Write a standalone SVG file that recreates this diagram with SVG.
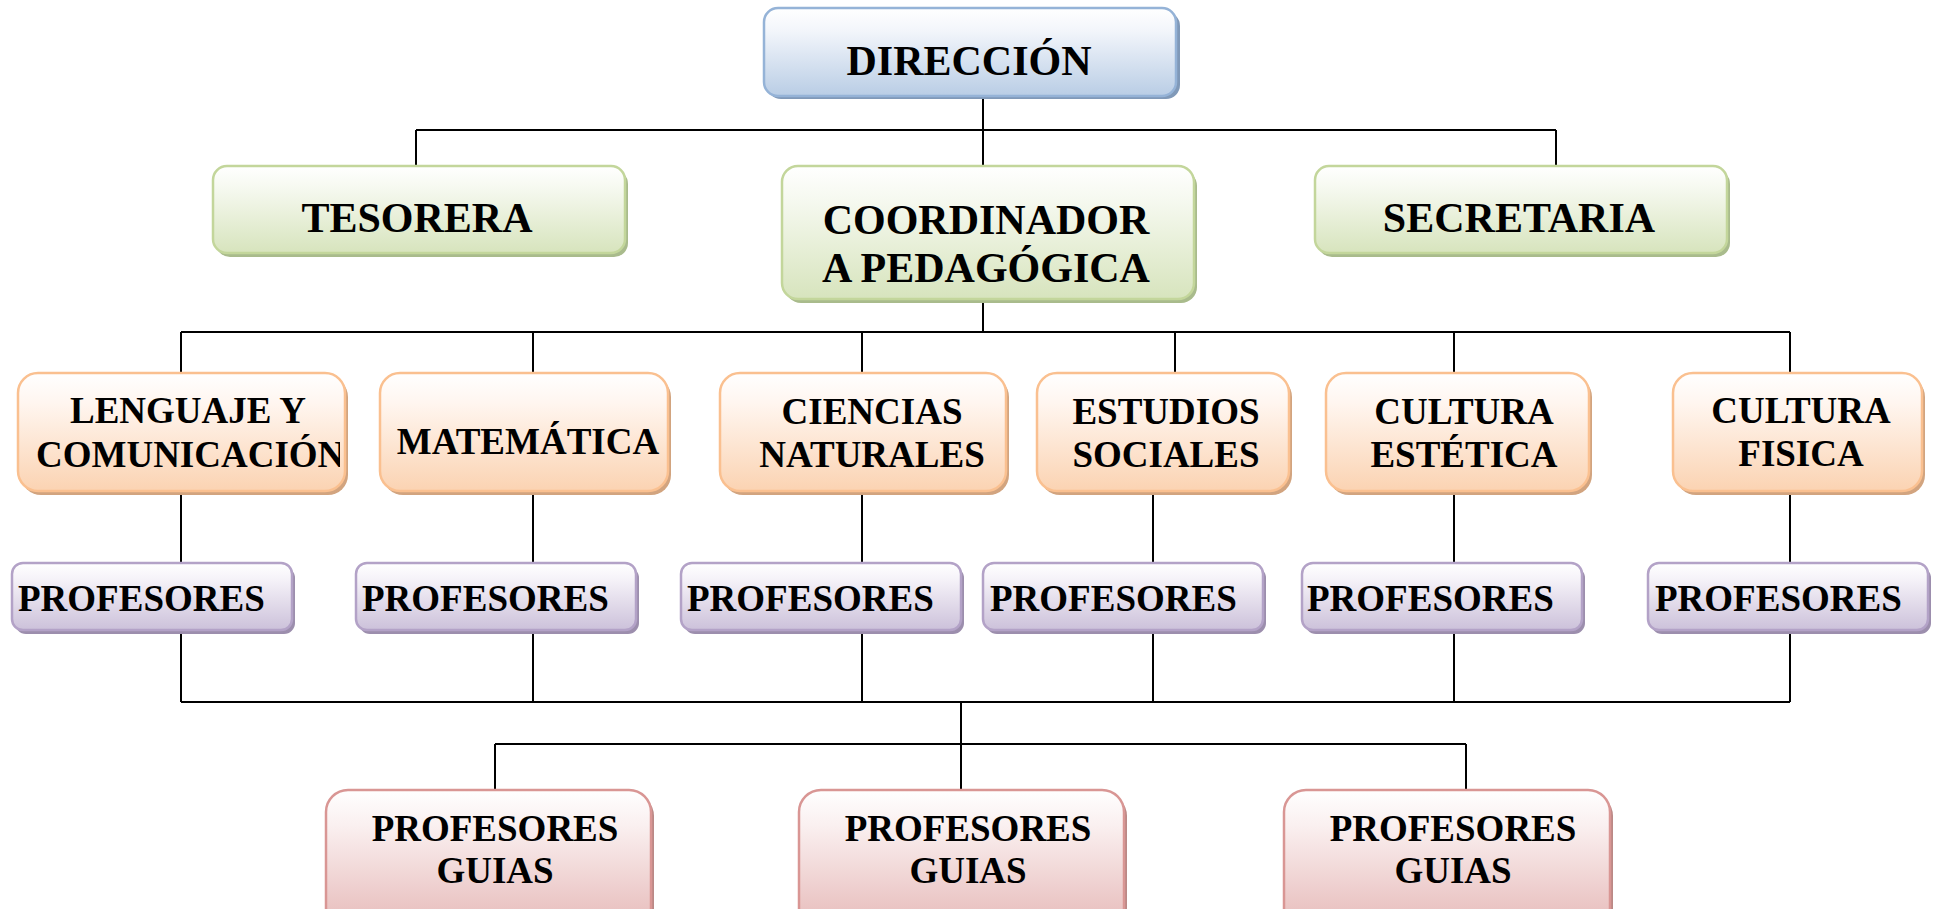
<svg xmlns="http://www.w3.org/2000/svg" width="1934" height="909" viewBox="0 0 1934 909">
<defs>
<linearGradient id="gBlue" x1="0" y1="0" x2="0" y2="1"><stop offset="0" stop-color="#ffffff"/><stop offset="0.25" stop-color="#f3f6fb"/><stop offset="1" stop-color="#b9cde5"/></linearGradient>
<linearGradient id="gGreen" x1="0" y1="0" x2="0" y2="1"><stop offset="0" stop-color="#ffffff"/><stop offset="0.25" stop-color="#f6f9f0"/><stop offset="1" stop-color="#d7e4bd"/></linearGradient>
<linearGradient id="gOrange" x1="0" y1="0" x2="0" y2="1"><stop offset="0" stop-color="#ffffff"/><stop offset="0.25" stop-color="#fff6f0"/><stop offset="1" stop-color="#fbd3b2"/></linearGradient>
<linearGradient id="gPurple" x1="0" y1="0" x2="0" y2="1"><stop offset="0" stop-color="#ffffff"/><stop offset="0.25" stop-color="#f5f2f8"/><stop offset="1" stop-color="#ccc1da"/></linearGradient>
<linearGradient id="gRed" x1="0" y1="0" x2="0" y2="1"><stop offset="0" stop-color="#ffffff"/><stop offset="0.25" stop-color="#faf0f0"/><stop offset="1" stop-color="#e6b9b8"/></linearGradient>
<clipPath id="clipLen"><rect x="18" y="373" width="322" height="118"/></clipPath>
</defs>
<style>
text{font-family:"Liberation Serif","Times New Roman",serif;font-weight:bold;fill:#000;text-anchor:middle}
.t42{font-size:42px}
.t37{font-size:37px}
.left{text-anchor:start}
.blue{fill:url(#gBlue);stroke:#95b3d7;stroke-width:2.5}
.green{fill:url(#gGreen);stroke:#c3d69b;stroke-width:2.5}
.orange{fill:url(#gOrange);stroke:#fac090;stroke-width:2.5}
.purple{fill:url(#gPurple);stroke:#b3a2c7;stroke-width:2.5}
.red{fill:url(#gRed);stroke:#d99694;stroke-width:2.5}
.sb{fill:#8099b8}.sg{fill:#a9bb8c}.so{fill:#d2a47f}.sp{fill:#9c8ead}.sr{fill:#bb8886}
.conn line{stroke:#000;stroke-width:2}
</style>
<rect width="1934" height="909" fill="#ffffff"/>
<g class="conn" id="connectors">
<line x1="983" y1="96" x2="983" y2="130"/>
<line x1="416" y1="130" x2="1556" y2="130"/>
<line x1="416" y1="130" x2="416" y2="166"/>
<line x1="983" y1="130" x2="983" y2="166"/>
<line x1="1556" y1="130" x2="1556" y2="166"/>
<line x1="983" y1="299" x2="983" y2="332"/>
<line x1="181" y1="332" x2="1790" y2="332"/>
<line x1="181" y1="332" x2="181" y2="373"/>
<line x1="533" y1="332" x2="533" y2="373"/>
<line x1="862" y1="332" x2="862" y2="373"/>
<line x1="1175" y1="332" x2="1175" y2="373"/>
<line x1="1454" y1="332" x2="1454" y2="373"/>
<line x1="1790" y1="332" x2="1790" y2="373"/>
<line x1="181" y1="491" x2="181" y2="563"/>
<line x1="533" y1="491" x2="533" y2="563"/>
<line x1="862" y1="491" x2="862" y2="563"/>
<line x1="1153" y1="491" x2="1153" y2="563"/>
<line x1="1454" y1="491" x2="1454" y2="563"/>
<line x1="1790" y1="491" x2="1790" y2="563"/>
<line x1="181" y1="630" x2="181" y2="702"/>
<line x1="533" y1="630" x2="533" y2="702"/>
<line x1="862" y1="630" x2="862" y2="702"/>
<line x1="1153" y1="630" x2="1153" y2="702"/>
<line x1="1454" y1="630" x2="1454" y2="702"/>
<line x1="1790" y1="630" x2="1790" y2="702"/>
<line x1="181" y1="702" x2="1790" y2="702"/>
<line x1="961" y1="702" x2="961" y2="790"/>
<line x1="495" y1="744" x2="1466" y2="744"/>
<line x1="495" y1="744" x2="495" y2="790"/>
<line x1="1466" y1="744" x2="1466" y2="790"/>
</g>
<g id="direccion">
<rect class="sb" x="767" y="12" width="413" height="87" rx="14"/>
<rect class="blue" x="764" y="8" width="412" height="88" rx="14"/>
<text class="t42" x="969" y="75">DIRECCIÓN</text>
</g>
<g id="tesorera">
<rect class="sg" x="216" y="170" width="412" height="87" rx="14"/>
<rect class="green" x="213" y="166" width="412" height="87" rx="14"/>
<text class="t42" x="417" y="232">TESORERA</text>
</g>
<g id="coordinadora">
<rect class="sg" x="785" y="170" width="412" height="133" rx="16"/>
<rect class="green" x="782" y="166" width="412" height="133" rx="16"/>
<text class="t42" x="986" y="234">COORDINADOR</text>
<text class="t42" x="986" y="282">A PEDAGÓGICA</text>
</g>
<g id="secretaria">
<rect class="sg" x="1318" y="170" width="412" height="87" rx="14"/>
<rect class="green" x="1315" y="166" width="412" height="87" rx="14"/>
<text class="t42" x="1519" y="232">SECRETARIA</text>
</g>
<g id="lenguaje">
<rect class="so" x="21" y="377" width="327" height="118" rx="20"/>
<rect class="orange" x="18" y="373" width="327" height="118" rx="20"/>
<g clip-path="url(#clipLen)">
<text class="t37" x="188" y="423">LENGUAJE Y</text>
<text class="t37 left" x="36" y="467">COMUNICACIÓN</text>
</g>
</g>
<g id="matematica">
<rect class="so" x="383" y="377" width="288" height="118" rx="20"/>
<rect class="orange" x="380" y="373" width="288" height="118" rx="20"/>
<text class="t37" x="528" y="454">MATEMÁTICA</text>
</g>
<g id="ciencias">
<rect class="so" x="723" y="377" width="286" height="118" rx="20"/>
<rect class="orange" x="720" y="373" width="286" height="118" rx="20"/>
<text class="t37" x="872" y="424">CIENCIAS</text>
<text class="t37" x="872" y="467">NATURALES</text>
</g>
<g id="estudios">
<rect class="so" x="1040" y="377" width="252" height="118" rx="20"/>
<rect class="orange" x="1037" y="373" width="252" height="118" rx="20"/>
<text class="t37" x="1166" y="424">ESTUDIOS</text>
<text class="t37" x="1166" y="467">SOCIALES</text>
</g>
<g id="estetica">
<rect class="so" x="1329" y="377" width="263" height="118" rx="20"/>
<rect class="orange" x="1326" y="373" width="263" height="118" rx="20"/>
<text class="t37" x="1464" y="424">CULTURA</text>
<text class="t37" x="1464" y="467">ESTÉTICA</text>
</g>
<g id="fisica">
<rect class="so" x="1676" y="377" width="249" height="118" rx="20"/>
<rect class="orange" x="1673" y="373" width="249" height="118" rx="20"/>
<text class="t37" x="1801" y="423">CULTURA</text>
<text class="t37" x="1801" y="466">FISICA</text>
</g>
<g id="prof1">
<rect class="sp" x="15" y="567" width="280" height="67" rx="11"/>
<rect class="purple" x="12" y="563" width="280" height="67" rx="11"/>
<text class="t37 left" x="18" y="611">PROFESORES</text>
</g>
<g id="prof2">
<rect class="sp" x="359" y="567" width="280" height="67" rx="11"/>
<rect class="purple" x="356" y="563" width="280" height="67" rx="11"/>
<text class="t37 left" x="362" y="611">PROFESORES</text>
</g>
<g id="prof3">
<rect class="sp" x="684" y="567" width="280" height="67" rx="11"/>
<rect class="purple" x="681" y="563" width="280" height="67" rx="11"/>
<text class="t37 left" x="687" y="611">PROFESORES</text>
</g>
<g id="prof4">
<rect class="sp" x="986" y="567" width="280" height="67" rx="11"/>
<rect class="purple" x="983" y="563" width="280" height="67" rx="11"/>
<text class="t37 left" x="990" y="611">PROFESORES</text>
</g>
<g id="prof5">
<rect class="sp" x="1305" y="567" width="280" height="67" rx="11"/>
<rect class="purple" x="1302" y="563" width="280" height="67" rx="11"/>
<text class="t37 left" x="1307" y="611">PROFESORES</text>
</g>
<g id="prof6">
<rect class="sp" x="1651" y="567" width="280" height="67" rx="11"/>
<rect class="purple" x="1648" y="563" width="280" height="67" rx="11"/>
<text class="t37 left" x="1655" y="611">PROFESORES</text>
</g>
<g id="guias1">
<rect class="sr" x="329" y="794" width="325" height="140" rx="22"/>
<rect class="red" x="326" y="790" width="325" height="140" rx="22"/>
<text class="t37" x="495" y="841">PROFESORES</text>
<text class="t37" x="495" y="883">GUIAS</text>
</g>
<g id="guias2">
<rect class="sr" x="802" y="794" width="325" height="140" rx="22"/>
<rect class="red" x="799" y="790" width="325" height="140" rx="22"/>
<text class="t37" x="968" y="841">PROFESORES</text>
<text class="t37" x="968" y="883">GUIAS</text>
</g>
<g id="guias3">
<rect class="sr" x="1287" y="794" width="326" height="140" rx="22"/>
<rect class="red" x="1284" y="790" width="326" height="140" rx="22"/>
<text class="t37" x="1453" y="841">PROFESORES</text>
<text class="t37" x="1453" y="883">GUIAS</text>
</g>
</svg>
